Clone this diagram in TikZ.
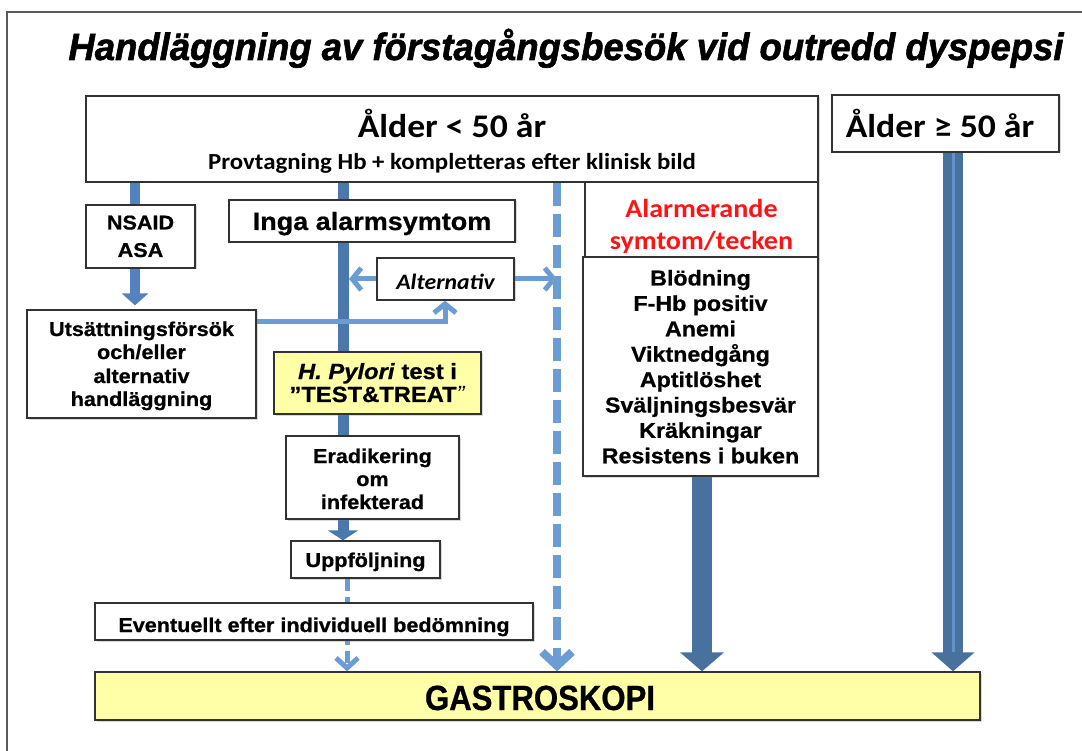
\documentclass[tikz,border=0pt]{standalone}
\usepackage{fontspec}
\setmainfont{Liberation Sans}[BoldFeatures={FakeBold=0.7},BoldItalicFeatures={FakeBold=0.7}]
\newfontfamily\calib{Carlito}
\newfontfamily\titlefont{Liberation Sans}[FakeBold=1.6]
\usepackage{graphicx}
\usetikzlibrary{arrows.meta,backgrounds,shadows}
\definecolor{boxline}{RGB}{50,50,50}
\definecolor{framec}{RGB}{90,90,90}
\definecolor{lblue}{RGB}{108,156,212}
\definecolor{mblue}{RGB}{84,130,190}
\definecolor{cblue}{RGB}{74,120,172}
\definecolor{dblue}{RGB}{72,113,158}
\definecolor{stripe}{RGB}{100,145,200}
\definecolor{hyellow}{RGB}{255,255,168}
\definecolor{alarmred}{RGB}{255,20,20}
\newcommand\sx[1]{\scalebox{1.08}[1]{#1}}
\begin{document}
\begin{tikzpicture}[x=1pt,y=-1pt,
  box/.style={draw=boxline,line width=1.3pt,fill=white,inner sep=0pt,
    drop shadow={shadow xshift=1.5pt,shadow yshift=-1.5pt,opacity=0.3}},
  ybox/.style={box,fill=hyellow},
  txt/.style={anchor=base,inner sep=0pt,font=\fontsize{#1}{#1}\selectfont\bfseries},
  ctxt/.style={anchor=base,inner sep=0pt,font=\fontsize{#1}{#1}\selectfont\calib\bfseries},
]
\useasboundingbox (0,0) rectangle (1082,751);
\draw[framec,line width=1.6pt] (7,751) -- (7,12) -- (1082,12);

\node[anchor=base,inner sep=0pt] (title) at (566,60)
  {\resizebox{995pt}{\height}{\fontsize{38}{40}\selectfont\titlefont\bfseries\itshape Handläggning av förstagångsbesök vid outredd dyspepsi}};

% x positions
\coordinate (xl) at (135,0);
\coordinate (xm) at (343,0);
\coordinate (xu) at (347,0);
\coordinate (xd) at (557,0);
\coordinate (xa) at (445,0);
\coordinate (xs) at (702,0);
\coordinate (xg) at (953,0);
\coordinate (yh) at (0,322);

% boxes
\node[box,minimum width=233,minimum height=76] (alarm) at (701.5,220) {};
\node[box,minimum width=732,minimum height=86] (age1) at (452,139) {};
\node[box,minimum width=235,minimum height=219] (symp) at (700.5,366.5) {};
\node[box,minimum width=227,minimum height=57] (age2) at (945.5,123.5) {};
\node[box,minimum width=109,minimum height=63] (nsaid) at (140.5,236.5) {};
\node[box,minimum width=286,minimum height=42] (inga) at (372,221) {};
\node[box,minimum width=137,minimum height=42] (alt) at (445.5,279) {};
\node[box,minimum width=229,minimum height=108] (uts) at (141.5,364) {};
\node[ybox,minimum width=207,minimum height=62] (hp) at (377.5,383) {};
\node[box,minimum width=173,minimum height=83] (erad) at (372.5,477.5) {};
\node[box,minimum width=149,minimum height=37] (upp) at (365.5,559.5) {};
\node[box,minimum width=438,minimum height=37] (event) at (314,621.5) {};
\node[ybox,minimum width=885,minimum height=48] (gastro) at (537.5,696) {};

% texts
\node[ctxt=33] (age1a) at (452,138) {\sx{Ålder < 50 år}};
\node[ctxt=23] (age1b) at (452,170) {\sx{Provtagning Hb + kompletteras efter klinisk bild}};
\node[ctxt=33] (age2a) at (940,138) {\sx{Ålder ≥ 50 år}};
\node[ctxt=26,text=alarmred] (alarma) at (701.5,218) {\sx{Alarmerande}};
\node[ctxt=26,text=alarmred] (alarmb) at (701.5,250) {\sx{symtom/tecken}};
\foreach \t [count=\i from 0] in {Blödning,F-Hb positiv,Anemi,Viktnedgång,Aptitlöshet,Sväljningsbesvär,Kräkningar,Resistens i buken}
  \node[txt=21.5] (sy\i) at (700.5,{285.5+25.4*\i}) {\sx{\t}};
\node[txt=20] (nsa) at (140.5,229.5) {\sx{NSAID}};
\node[txt=20] (nsb) at (140.5,257) {\sx{ASA}};
\node[txt=25] (ingat) at (372,230) {\sx{Inga alarmsymtom}};
\node[ctxt=22] (altt) at (445.5,290) {\sx{\itshape Alternativ}};
\node[txt=20] (uts1) at (141.5,336) {\sx{Utsättningsförsök}};
\node[txt=20] (uts2) at (141.5,359) {\sx{och/eller}};
\node[txt=20] (uts3) at (141.5,383) {\sx{alternativ}};
\node[txt=20] (uts4) at (141.5,406) {\sx{handläggning}};
\node[txt=22] (hp1) at (377.5,379) {\sx{\textit{H. Pylori} test i}};
\node[txt=22] (hp2) at (377.5,402) {\sx{”TEST\&TREAT\textit{\mdseries ”}}};
\node[txt=20] (er1) at (372.5,463) {\sx{Eradikering}};
\node[txt=20] (er2) at (372.5,486) {\sx{om}};
\node[txt=20] (er3) at (372.5,509) {\sx{infekterad}};
\node[txt=20] (uppt) at (365.5,567) {\sx{Uppföljning}};
\node[txt=20] (eventt) at (314,632) {\sx{Eventuellt efter individuell bedömning}};
\node[anchor=base,inner sep=0pt] (gastrot) at (540,710)
  {\resizebox{230pt}{\height}{\fontsize{35}{36}\selectfont\bfseries GASTROSKOPI}};

% connectors
\begin{scope}[on background layer]
\draw[mblue,line width=10,-{Triangle[length=12pt 0 0,width=26pt 0 0]},shorten >=4pt]
  (age1.south -| xl) -- (uts.north -| xl);
\draw[cblue,line width=11] (age1.south -| xm) -- (erad.north -| xm);
\draw[cblue,line width=11,-{Triangle[length=10pt 0 0,width=30pt 0 0]}]
  (erad.south -| xm) -- (upp.north -| xm);
\draw[lblue,line width=5,dash pattern=on 12pt off 6pt,-{Straight Barb[length=10pt 0 0,width=22pt 0 0]}]
  (upp.south -| xu) -- (gastro.north -| xu);
\draw[lblue,line width=8,dash pattern=on 23pt off 8pt,-{Straight Barb[length=14pt 0 0,width=30pt 0 0]}]
  (age1.south -| xd) -- (gastro.north -| xd);
\draw[lblue,line width=5,-{Straight Barb[length=9pt 0 0,width=22pt 0 0]}]
  (alt.west) -- ([xshift=6pt]alt.west -| xm);
\draw[lblue,line width=5,-{Straight Barb[length=9pt 0 0,width=22pt 0 0]}]
  (alt.east) -- (alt.east -| xd);
\draw[lblue,line width=5,-{Straight Barb[length=9pt 0 0,width=22pt 0 0]}]
  (uts.east |- yh) -| (alt.south -| xa);
\draw[dblue,line width=20,-{Triangle[length=19pt 0 0,width=43pt 0 0]}]
  (symp.south -| xs) -- (gastro.north -| xs);
\draw[dblue,line width=20,-{Triangle[length=19pt 0 0,width=42pt 0 0]}]
  (age2.south -| xg) -- (gastro.north -| xg);
\draw[stripe,line width=3,shorten >=19pt] (age2.south -| xg) -- (gastro.north -| xg);
\end{scope}
\end{tikzpicture}
\end{document}
